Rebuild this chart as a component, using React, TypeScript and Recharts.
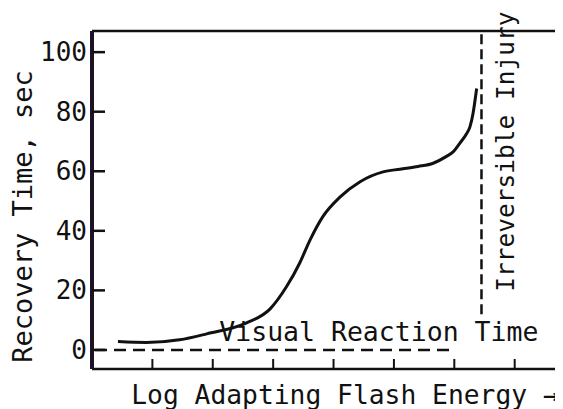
import React from "react";
import {
  LineChart,
  Line,
  XAxis,
  YAxis,
  ReferenceLine,
  ReferenceDot
} from "recharts";

// curve: log flash energy (x) vs recovery time (sec)
const energy = [
  0.43, 0.9, 1.45, 1.9, 2.55, 2.95, 3.22, 3.44, 3.61, 3.82, 4.11, 4.44,
  4.82, 5.1, 5.4, 5.65, 5.87, 5.98, 6.09, 6.2, 6.26, 6.31, 6.37
];
const recovery = [
  2.8, 2.5, 3.4, 5.4, 9.0, 13.8, 21.2, 29.2, 36.9, 44.7, 51.4, 56.5,
  59.8, 60.7, 61.6, 62.7, 65.0, 66.5, 69.4, 72.5, 75.0, 79.4, 87.8
];

const yTicks = [0, 20, 40, 60, 80, 100];
const xTicks = [1, 2, 3, 4, 5, 6, 7];

// dashed markers
const reactionTime = 0;
const reactionFrom = 0.05;
const reactionTo = 6;
const injuryEnergy = 6.45;
const injuryFrom = 12;

// annotation anchors (data space)
const reactionLabelX = 4.75;
const injuryLabelY = 66.6;

const yLabel = "Recovery Time, sec";
const xLabel = "Log Adapting Flash Energy \u2192";
const reactionLabel = "Visual Reaction Time";
const injuryLabel = "Irreversible Injury";

const data = energy.map((x, i) => ({ x, y: recovery[i] }));

const INK = "#111";
const FRAME = "#1c1424";
const FONT = "'DejaVu Sans Mono', monospace";
const X_MIN = 0;
const X_MAX = 7.8;
const Y_MIN = -6.4;
const Y_MAX = 107.1;

const YTick = ({ x, y, payload }: any) => (
  <g>
    <line x1={x} y1={y} x2={x + 13} y2={y} stroke={INK} strokeWidth={2.5} />
    <text
      x={x - 5}
      y={y + 9}
      textAnchor="end"
      fontFamily={FONT}
      fontSize={26}
      fill={INK}
    >
      {payload.value}
    </text>
  </g>
);

const XTick = ({ x, y }: any) => (
  <line x1={x} y1={y} x2={x} y2={y - 10} stroke={INK} strokeWidth={2} />
);

const YTitle = ({ viewBox }: any) => {
  const cx = viewBox.x + 24;
  const cy = viewBox.y + viewBox.height / 2 + 16.5;
  return (
    <text
      x={cx}
      y={cy}
      transform={`rotate(-90 ${cx} ${cy})`}
      textAnchor="middle"
      fontFamily={FONT}
      fontSize={27}
      fill={INK}
    >
      {yLabel}
    </text>
  );
};

const XTitle = ({ viewBox }: any) => (
  <text
    x={viewBox.x + viewBox.width / 2 + 17.5}
    y={viewBox.y + 35}
    textAnchor="middle"
    fontFamily={FONT}
    fontSize={26.3}
    fill={INK}
  >
    {xLabel}
  </text>
);

const ReactionText = ({ viewBox }: any) => (
  <text
    x={viewBox.x}
    y={viewBox.y - 9}
    textAnchor="middle"
    fontFamily={FONT}
    fontSize={26.5}
    fill={INK}
  >
    {reactionLabel}
  </text>
);

const InjuryText = ({ viewBox }: any) => {
  const cx = viewBox.x + 33;
  const cy = viewBox.y;
  return (
    <text
      x={cx}
      y={cy}
      transform={`rotate(-90 ${cx} ${cy})`}
      textAnchor="middle"
      fontFamily={FONT}
      fontSize={24.5}
      fill={INK}
    >
      {injuryLabel}
    </text>
  );
};

export default function App() {
  return (
    <div style={{ width: 555, height: 401, background: "#fff" }}>
      <LineChart
        width={555}
        height={401}
        data={data}
        margin={{ top: 23, right: 0, bottom: 0, left: 0 }}
      >
        <XAxis
          type="number"
          dataKey="x"
          domain={[X_MIN, X_MAX]}
          allowDataOverflow
          ticks={xTicks}
          interval={0}
          height={40}
          tickSize={0}
          tickMargin={0}
          tickLine={false}
          tick={<XTick />}
          axisLine={{ stroke: INK, strokeWidth: 2.5 }}
          label={{ content: <XTitle /> }}
        />
        <YAxis
          type="number"
          domain={[Y_MIN, Y_MAX]}
          allowDataOverflow
          ticks={yTicks}
          interval={0}
          width={84}
          tickSize={0}
          tickMargin={0}
          tickLine={false}
          tick={<YTick />}
          axisLine={{ stroke: FRAME, strokeWidth: 4 }}
          label={{ content: <YTitle /> }}
        />
        {/* top edge of the frame */}
        <ReferenceLine y={Y_MAX} ifOverflow="visible" stroke={INK} strokeWidth={2.5} />
        <ReferenceLine
          segment={[
            { x: reactionFrom, y: reactionTime },
            { x: reactionTo, y: reactionTime }
          ]}
          stroke={INK}
          strokeWidth={2.5}
          strokeDasharray="12 7"
        />
        <ReferenceLine
          segment={[
            { x: injuryEnergy, y: injuryFrom },
            { x: injuryEnergy, y: Y_MAX }
          ]}
          stroke={INK}
          strokeWidth={2.5}
          strokeDasharray="10 5"
        />
        <ReferenceDot
          x={reactionLabelX}
          y={reactionTime}
          r={0}
          fill="none"
          stroke="none"
          label={{ content: <ReactionText /> }}
        />
        <ReferenceDot
          x={injuryEnergy}
          y={injuryLabelY}
          r={0}
          fill="none"
          stroke="none"
          label={{ content: <InjuryText /> }}
        />
        <Line
          type="monotone"
          dataKey="y"
          stroke={INK}
          strokeWidth={3}
          dot={false}
          isAnimationActive={false}
        />
      </LineChart>
    </div>
  );
}
